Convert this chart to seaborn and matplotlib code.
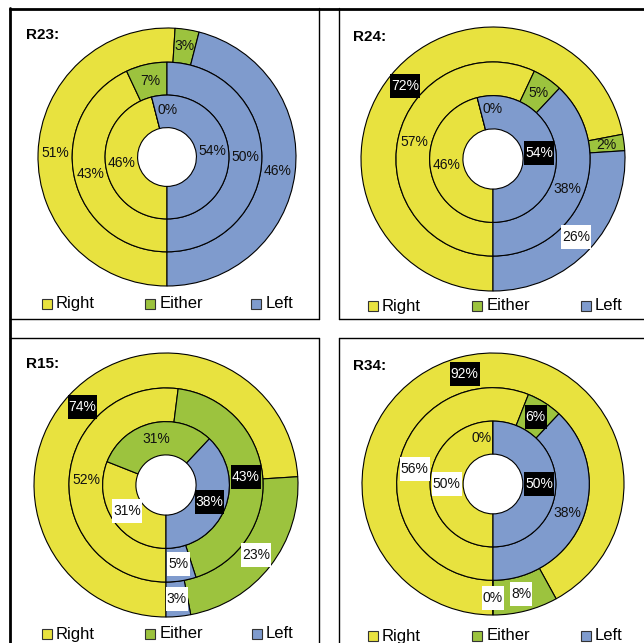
import matplotlib
matplotlib.use("Agg")
import numpy as np
import matplotlib.pyplot as plt
import seaborn as sns
from matplotlib.patches import Rectangle
from matplotlib.lines import Line2D

sns.set_theme(style="white")
plt.rcParams["font.family"] = ["Liberation Sans", "DejaVu Sans"]

# ---- data -----------------------------------------------------------------
categories = ["Right", "Either", "Left"]
panel_names = ["R23:", "R24:", "R15:", "R34:"]

# shares in percent, per ring (outer, middle, inner), order = categories
r23_outer = [51, 3, 46]
r23_middle = [43, 7, 50]
r23_inner = [46, 0, 54]

r24_outer = [72, 2, 26]
r24_middle = [57, 5, 38]
r24_inner = [46, 0, 54]

r15_outer = [74, 23, 3]
r15_middle = [52, 43, 5]
r15_inner = [31, 31, 38]

r34_outer = [92, 8, 0]
r34_middle = [56, 6, 38]
r34_inner = [50, 0, 50]

panel_rings = [
    [r23_outer, r23_middle, r23_inner],
    [r24_outer, r24_middle, r24_inner],
    [r15_outer, r15_middle, r15_inner],
    [r34_outer, r34_middle, r34_inner],
]

# ---- styling --------------------------------------------------------------
palette = sns.color_palette(["#E8E23F", "#9CC33E", "#7F9BCD"])

# highlighted data labels: (panel, ring, category) -> "dark" / "light"
label_boxes = {
    (1, 0, 0): "dark", (1, 2, 2): "dark", (1, 0, 2): "light",
    (2, 0, 0): "dark", (2, 1, 1): "dark", (2, 2, 2): "dark",
    (2, 2, 0): "light", (2, 0, 1): "light", (2, 1, 2): "light", (2, 0, 2): "light",
    (3, 0, 0): "dark", (3, 1, 1): "dark", (3, 2, 2): "dark",
    (3, 1, 0): "light", (3, 2, 0): "light", (3, 0, 2): "light", (3, 0, 1): "light",
}
# small pixel nudges for zero-size slices
label_nudge = {
    (0, 2, 1): (12, -3),
    (1, 2, 1): (11, -5),
    (3, 2, 1): (-11, 0),
}

W, H = 644, 643
fig = plt.figure(figsize=(W / 100, H / 100), dpi=100)
fig.patch.set_facecolor("white")


def fx(x):
    return x / W


def fy(y):
    return 1 - y / H


layout = [
    dict(center=(167, 157), radius=129, title=(26, 35), leg_y=304,
         leg_sq=(42, 145, 251), leg_tx=(56, 160, 266)),
    dict(center=(493, 159), radius=132, title=(353, 37), leg_y=306,
         leg_sq=(368, 472, 581), leg_tx=(382, 487, 595)),
    dict(center=(166, 485), radius=132, title=(26, 364), leg_y=634,
         leg_sq=(42, 145, 252), leg_tx=(56, 160, 266)),
    dict(center=(493, 484), radius=131, title=(353, 366), leg_y=636,
         leg_sq=(368, 472, 581), leg_tx=(382, 487, 595)),
]

ring_outer = [1.0, 0.735, 0.48]
hole = 0.228

boxed = []
for p, (name, rings, lay) in enumerate(zip(panel_names, panel_rings, layout)):
    cx, cy = lay["center"]
    R = lay["radius"]
    ax = fig.add_axes([fx(cx - R), fy(cy + R), 2 * R / W, 2 * R / H])

    for k, vals in enumerate(rings):
        r_out = ring_outer[k]
        r_in = ring_outer[k + 1] if k + 1 < len(ring_outer) else hole
        wedges, _ = ax.pie(
            vals, radius=r_out, startangle=270, counterclock=False,
            colors=palette,
            wedgeprops=dict(width=r_out - r_in, edgecolor="black", linewidth=0.8),
        )
        r_mid = (r_out + r_in) / 2
        for c, (w, v) in enumerate(zip(wedges, vals)):
            ang = np.deg2rad((w.theta1 + w.theta2) / 2)
            x, y = r_mid * np.cos(ang), r_mid * np.sin(ang)
            dx, dy = label_nudge.get((p, k, c), (0, 0))
            x += dx / R
            y -= dy / R
            style = label_boxes.get((p, k, c))
            color = "white" if style == "dark" else "#111111"
            t = ax.text(x, y, f"{v}%", ha="center", va="center",
                        fontsize=10, color=color, zorder=5)
            if style:
                boxed.append((ax, t, style))

    ax.set_xlim(-1, 1)
    ax.set_ylim(-1, 1)
    ax.set_aspect("equal")
    ax.axis("off")

    fig.text(fx(lay["title"][0]), fy(lay["title"][1]), name, fontsize=11,
             fontweight="bold", ha="left", va="center", color="black")

    # legend row
    ly = lay["leg_y"]
    for c, cat in enumerate(categories):
        sx = lay["leg_sq"][c]
        fig.patches.append(Rectangle((fx(sx), fy(ly + 5)), 10 / W, 10 / H,
                                     transform=fig.transFigure,
                                     facecolor=palette[c], edgecolor="#333333",
                                     linewidth=0.8))
        fig.text(fx(lay["leg_tx"][c]), fy(ly), cat, fontsize=12,
                 ha="left", va="center", color="black")

# boxes behind highlighted labels
fig.canvas.draw()
renderer = fig.canvas.get_renderer()
for ax, t, style in boxed:
    bb = t.get_window_extent(renderer)
    xc = (bb.x0 + bb.x1) / 2
    yc = (bb.y0 + bb.y1) / 2
    w = bb.width + 2
    h = 24
    inv = ax.transData.inverted()
    (x0, y0) = inv.transform((xc - w / 2, yc - h / 2))
    (x1, y1) = inv.transform((xc + w / 2, yc + h / 2))
    ax.add_patch(Rectangle((x0, y0), x1 - x0, y1 - y0,
                           facecolor="black" if style == "dark" else "white",
                           edgecolor="none", zorder=4))

# panel frames
thick = dict(color="black", linewidth=2.0, transform=fig.transFigure)
thin = dict(color="black", linewidth=1.0, transform=fig.transFigure)
frame = [
    ((10, 644), (8.5, 8.5), thick),
    ((10, 10), (8, 643), thick),
    ((319, 319), (8, 319), thin),
    ((10, 319), (319, 319), thin),
    ((339, 339), (8, 319), thin),
    ((339, 644), (319, 319), thin),
    ((10, 319), (338, 338), thin),
    ((319, 319), (338, 643), thin),
    ((339, 644), (338, 338), thin),
    ((339, 339), (338, 643), thin),
]
for xs, ys, kw in frame:
    fig.lines.append(Line2D([fx(v) for v in xs], [fy(v) for v in ys], **kw))

fig.savefig("out.png", dpi=100, facecolor="white")
